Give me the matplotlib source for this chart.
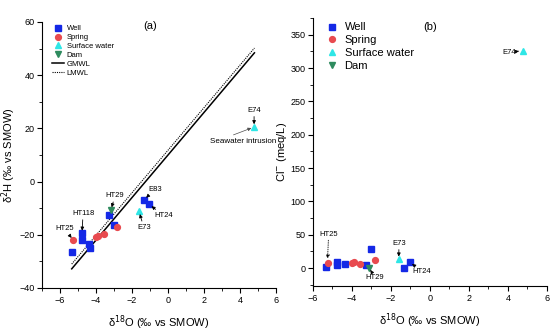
import matplotlib
matplotlib.use('Agg')
import matplotlib.pyplot as plt
from matplotlib.ticker import MultipleLocator
import numpy as np

plt.rcParams['font.family'] = ['Liberation Sans', 'DejaVu Sans']

# ---- panel (a): d18O vs d2H ----
well_o = [-5.32, -4.78, -4.76, -4.37, -4.33, -3.30, -3.02, -1.33, -1.04]
well_h = [-26.3, -19.5, -22.0, -23.5, -25.0, -12.6, -16.2, -6.8, -8.6]
spring_o = [-5.26, -4.00, -3.90, -3.57, -2.83]
spring_h = [-22.0, -20.8, -20.3, -19.7, -17.2]
surf_o = [-1.61, 4.78]
surf_h = [-11.2, 20.5]
dam_o = [-3.17]
dam_h = [-10.7]
mwl_x = [-5.35, 4.80]          # range of the meteoric water lines
gmwl = (8.0, 10.0)             # slope, intercept
lmwl = (8.0, 11.8)

# ---- panel (b): d18O vs Cl- ----
cl_well_o = [-5.33, -4.78, -4.78, -4.34, -3.28, -3.03, -1.33, -1.03]
cl_well = [1.5, 5.0, 9.0, 5.5, 5.0, 29.0, 0.5, 8.5]
cl_spring_o = [-5.25, -4.00, -3.91, -3.57, -2.80]
cl_spring = [7.5, 7.5, 9.5, 6.5, 11.5]
cl_surf_o = [-1.60, 4.77]
cl_surf = [13.0, 326.0]
cl_dam_o = [-3.13]
cl_dam = [0.5]

c_well = '#1428e6'
c_spring = '#e84a4f'
c_surf = '#2ee6e6'
c_dam = '#2e8b5e'

fig = plt.figure(figsize=(5.5, 3.36), dpi=100)
ax1 = fig.add_axes([0.0764, 0.1429, 0.4255, 0.7917])
ax2 = fig.add_axes([0.569, 0.1488, 0.4255, 0.7976])


def style(ax):
    ax.spines['top'].set_visible(False)
    ax.spines['right'].set_visible(False)
    ax.tick_params(which='major', direction='out', length=3.5, width=0.8,
                   labelsize=6.5, pad=2)
    ax.tick_params(which='minor', direction='out', length=2, width=0.6)


arrow = dict(arrowstyle='-|>', color='k', lw=0.6, mutation_scale=5, shrinkA=0, shrinkB=2)
ms = 4.2

# (a)
xs = np.array(mwl_x)
ax1.plot(xs, gmwl[0] * xs + gmwl[1], color='k', lw=1.1, label='GMWL')
ax1.plot(xs, lmwl[0] * xs + lmwl[1], color='k', lw=0.8, ls=(0, (1, 1)), label='LMWL')
ax1.plot(well_o, well_h, 's', color=c_well, ms=ms, label='Well')
ax1.plot(spring_o, spring_h, 'o', color=c_spring, ms=ms, label='Spring')
ax1.plot(surf_o, surf_h, '^', color=c_surf, ms=ms + 0.5, label='Surface water')
ax1.plot(dam_o, dam_h, 'v', color=c_dam, ms=ms + 0.5, label='Dam')
ax1.set_xlim(-7, 6)
ax1.set_ylim(-40, 60)
ax1.xaxis.set_major_locator(MultipleLocator(2))
ax1.xaxis.set_minor_locator(MultipleLocator(1))
ax1.yaxis.set_major_locator(MultipleLocator(20))
ax1.yaxis.set_minor_locator(MultipleLocator(10))
style(ax1)
ax1.set_xlabel('δ$^{18}$O (‰ vs SMOW)', fontsize=8, labelpad=6)
ax1.set_ylabel('δ$^{2}$H (‰ vs SMOW)', fontsize=8, labelpad=1)
ax1.text(-1.0, 58.5, '(a)', fontsize=8, ha='center', va='center')

ann_a = [('HT25', (-5.26, -22.0), (-5.75, -17.8)),
         ('HT118', (-4.78, -19.5), (-4.72, -12.0)),
         ('HT29', (-3.17, -10.7), (-2.95, -5.3)),
         ('E83', (-1.33, -6.8), (-0.72, -2.9)),
         ('HT24', (-1.04, -8.6), (-0.25, -12.8)),
         ('E73', (-1.61, -11.2), (-1.35, -17.2)),
         ('E74', (4.78, 20.5), (4.78, 26.8))]
for name, pt, txt in ann_a:
    ax1.annotate(name, xy=pt, xytext=txt, fontsize=5.5,
                 ha='center', va='center', arrowprops=arrow)
ax1.annotate('Seawater intrusion', xy=(4.7, 20.3), xytext=(4.15, 15.2), fontsize=5.8,
             ha='center', va='center',
             arrowprops=dict(arrowstyle='-|>', color='0.3', lw=0.5, mutation_scale=5,
                             shrinkA=0, shrinkB=1, relpos=(0.25, 1.0)))

h, l = ax1.get_legend_handles_labels()
order = [2, 3, 4, 5, 0, 1]
ax1.legend([h[i] for i in order], [l[i] for i in order], loc='upper left',
           bbox_to_anchor=(0.03, 1.0), frameon=False, handlelength=1.6,
           handletextpad=0.3, labelspacing=0.2, borderaxespad=0,
           prop={'size': 5.5})

# (b)
ax2.plot(cl_well_o, cl_well, 's', color=c_well, ms=ms, label='Well')
ax2.plot(cl_spring_o, cl_spring, 'o', color=c_spring, ms=ms, label='Spring')
ax2.plot(cl_surf_o, cl_surf, '^', color=c_surf, ms=ms + 0.5, label='Surface water')
ax2.plot(cl_dam_o, cl_dam, 'v', color=c_dam, ms=ms + 0.5, label='Dam')
ax2.set_xlim(-6, 6)
ax2.set_ylim(-27, 375)
ax2.xaxis.set_major_locator(MultipleLocator(2))
ax2.xaxis.set_minor_locator(MultipleLocator(1))
ax2.yaxis.set_major_locator(MultipleLocator(50))
ax2.yaxis.set_minor_locator(MultipleLocator(25))
style(ax2)
ax2.set_xlabel('δ$^{18}$O (‰ vs SMOW)', fontsize=8, labelpad=6)
ax2.set_ylabel('Cl$^{-}$ (meq/L)', fontsize=8, labelpad=1)
ax2.text(0.0, 362, '(b)', fontsize=8, ha='center', va='center')

ann_b = [('HT29', (-3.13, 0.5), (-2.82, -14.0)),
         ('E73', (-1.60, 13.0), (-1.59, 37.0)),
         ('HT24', (-1.03, 8.5), (-0.43, -4.5)),
         ('E74', (4.70, 326.0), (4.05, 323.0))]
for name, pt, txt in ann_b:
    ax2.annotate(name, xy=pt, xytext=txt, fontsize=5.5,
                 ha='center', va='center', arrowprops=arrow)
ax2.annotate('HT25', xy=(-5.25, 12.0), xytext=(-5.2, 51.0), fontsize=5.5,
             ha='center', va='center',
             arrowprops=dict(arrowstyle='-|>', color='k', lw=0.6, ls=':', mutation_scale=5,
                             shrinkA=0, shrinkB=1))

ax2.legend(loc='upper left', bbox_to_anchor=(0.04, 1.0), frameon=False,
           handlelength=1.0, handletextpad=0.6, labelspacing=0.25, borderaxespad=0,
           prop={'size': 8})

fig.savefig('out.png', dpi=100)
